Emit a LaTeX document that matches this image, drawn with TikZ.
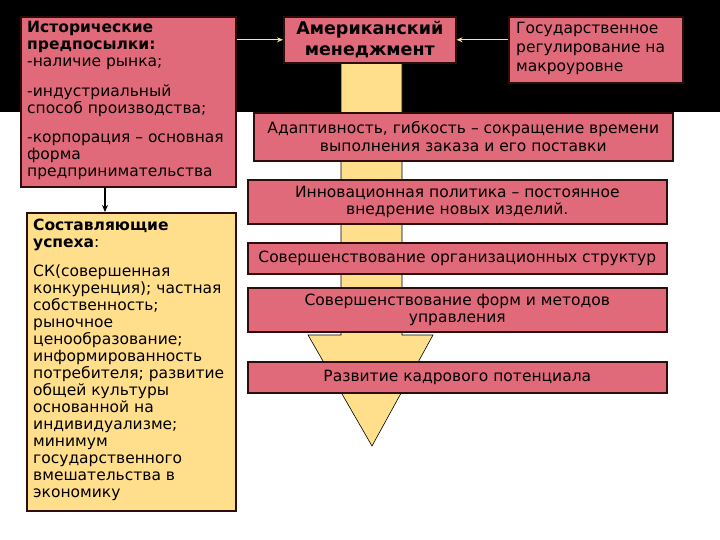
\documentclass[tikz,border=0pt]{standalone}
\usepackage{fontspec}
\setmainfont{DejaVu Sans}
\usetikzlibrary{arrows.meta, positioning, calc}
\definecolor{boxpink}{RGB}{224,106,122}
\definecolor{boxyellow}{RGB}{255,222,140}
\definecolor{boxedge}{RGB}{45,12,12}
\definecolor{linkyellow}{RGB}{246,230,160}

\begin{document}
\begin{tikzpicture}[x=1pt, y=-1pt,
  boxbase/.style={rectangle, draw=boxedge, line width=1.6pt, anchor=north west,
                  inner sep=0pt, align=center, font=\fontsize{15.5}{17.5}\selectfont},
  pinkbox/.style={boxbase, fill=boxpink},
  yellowbox/.style={boxbase, fill=boxyellow},
  boxtext/.style={anchor=north west, inner sep=0pt, align=left,
                  font=\fontsize{15.5}{17}\selectfont},
  link/.style={-{Stealth[length=6pt, width=5pt]}, line width=1.4pt, draw=linkyellow}]
  % Background
  \useasboundingbox (0,0) rectangle (720,540);
  \fill[black] (0,0) rectangle (720,112);

  % Big arrow behind the list
  \coordinate (shaftL) at (341,62);
  \coordinate (shaftR) at (402,62);
  \draw[fill=boxyellow, line width=0.6pt] (shaftL) -- (341,335) -- (308,335) -- (372,446)
        -- (433,335) -- (402,335) -- (shaftR);

  % Top row
  \node[pinkbox, minimum width=215, minimum height=170] (hist) at (20,16) {};
  \node[boxtext] (histtxt) at (27,21)
        {\textbf{Исторические}\\ \textbf{предпосылки:}\\ -наличие рынка;\\[13pt]
         -индустриальный\\ способ производства;\\[12pt]
         -корпорация – основная\\ форма\\ предпринимательства};
  \node[pinkbox, minimum width=172, minimum height=46,
        font=\fontsize{17.5}{21}\selectfont\bfseries] (amer) at (283,16)
        {Американский\\ менеджмент};
  \node[pinkbox, minimum width=174, minimum height=66] (gov) at (508,16) {};
  \node[boxtext, font=\fontsize{15.5}{19}\selectfont] (govtxt) at (516,22)
        {Государственное\\ регулирование на\\ макроуровне};

  % Factors
  \node[pinkbox, minimum width=419, minimum height=48] (adapt) at (253,112)
        {Адаптивность, гибкость – сокращение времени\\ выполнения заказа и его поставки};
  \node[pinkbox, minimum width=419, minimum height=44] (innov) at (247,179)
        {Инновационная политика – постоянное\\ внедрение новых изделий.};
  \node[pinkbox, minimum width=419, minimum height=31] (org) at (247,242)
        {Совершенствование организационных структур};
  \node[pinkbox, minimum width=419, minimum height=44] (forms) at (247,287)
        {Совершенствование форм и методов\\ управления};
  \node[pinkbox, minimum width=419, minimum height=31] (kadr) at (247,361)
        {Развитие кадрового потенциала};

  % Components of success
  \node[yellowbox, minimum width=209, minimum height=298] (comp) at (26,212) {};
  \node[boxtext] (comptxt) at (33,219)
        {\textbf{Составляющие}\\ \textbf{успеха}:\\[12pt]
         СК(совершенная\\ конкуренция); частная\\ собственность;\\ рыночное\\
         ценообразование;\\ информированность\\ потребителя; развитие\\
         общей культуры\\ основанной на\\ индивидуализме;\\ минимум\\
         государственного\\ вмешательства в\\ экономику};

  % Links
  \draw[link] (hist.east |- amer.west) -- (amer.west);
  \draw[link] (gov.west |- amer.east) -- (amer.east);
  \coordinate (down) at ($(hist.south west)+(85,0)$);
  \draw[-{Stealth[length=7pt, width=6pt]}, line width=1.4pt] (down) -- (down |- comp.north);
\end{tikzpicture}
\end{document}
